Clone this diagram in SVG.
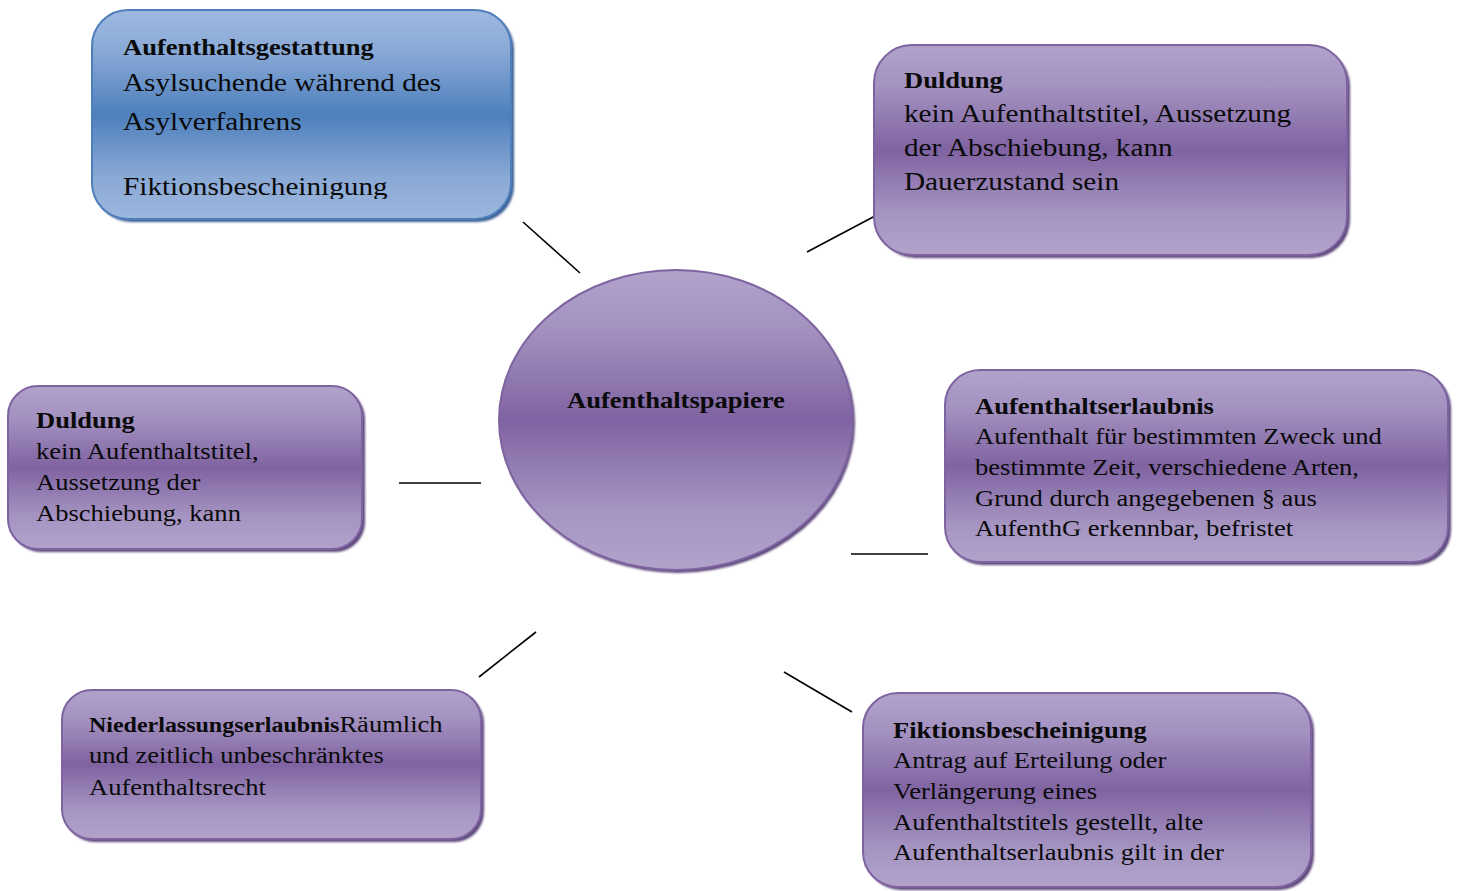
<svg xmlns="http://www.w3.org/2000/svg" width="1459" height="891" viewBox="0 0 1459 891">
<style>
text{font-family:"Liberation Serif","Times New Roman",serif;fill:#0a0a0a;}
.hd{font-weight:bold;}
.s23{font-size:22.7px;}
.s25{font-size:25px;}
.box{stroke-width:2;}
.pbox{fill:url(#gP);stroke:#7e63a0;}
.bbox{fill:url(#gB);stroke:#4f7fbb;}
.psh{fill:#5b467a;filter:url(#blur);}
.bsh{fill:#3a6094;filter:url(#blur);}
.con line{stroke:#000;stroke-width:1.6;}
</style>
<defs>
<linearGradient id="gP" x1="0" y1="0" x2="0" y2="1">
<stop offset="0" stop-color="#b1a2cb"/>
<stop offset="0.2" stop-color="#a391c0"/>
<stop offset="0.5" stop-color="#8063a2"/>
<stop offset="0.8" stop-color="#a594c2"/>
<stop offset="1" stop-color="#b1a2cb"/>
</linearGradient>
<linearGradient id="gB" x1="0" y1="0" x2="0" y2="1">
<stop offset="0" stop-color="#9fb9e0"/>
<stop offset="0.2" stop-color="#89a9d6"/>
<stop offset="0.5" stop-color="#4e80bd"/>
<stop offset="0.8" stop-color="#8aa9d5"/>
<stop offset="1" stop-color="#9db7de"/>
</linearGradient>
<filter id="blur" x="-5%" y="-5%" width="110%" height="110%"><feGaussianBlur stdDeviation="1.2"/></filter>
<clipPath id="clipTL"><rect x="92" y="10" width="422" height="189"/></clipPath>
</defs>

<g id="connectors" class="con">
<line x1="523" y1="222" x2="580" y2="273"/>
<line x1="807" y1="252" x2="875" y2="216"/>
<line x1="399" y1="483" x2="481" y2="483"/>
<line x1="851" y1="554" x2="928" y2="554"/>
<line x1="479" y1="677" x2="536" y2="632"/>
<line x1="784" y1="672" x2="852" y2="712"/>
</g>

<g id="node-center">
<ellipse class="psh" cx="678" cy="423" rx="177" ry="150"/>
<ellipse cx="676" cy="420" rx="177" ry="150" fill="url(#gP)" stroke="#7e63a0" stroke-width="2"/>
<text class="hd s23" transform="translate(567 408) scale(1.17 1)">Aufenthaltspapiere</text>
</g>

<g id="node-aufenthaltsgestattung">
<rect class="bsh" x="95" y="13" width="419" height="209" rx="36"/>
<rect class="box bbox" x="92" y="10" width="419" height="209" rx="36"/>
<g clip-path="url(#clipTL)">
<text transform="translate(123 0) scale(1.17 1)">
<tspan class="hd s23" x="0" y="55">Aufenthaltsgestattung</tspan>
<tspan class="s25" x="0" y="91">Asylsuchende während des</tspan>
<tspan class="s25" x="0" y="130">Asylverfahrens</tspan>
<tspan class="s25" x="0" y="195">Fiktionsbescheinigung</tspan>
</text>
</g>
</g>

<g id="node-duldung-top">
<rect class="psh" x="877" y="48" width="473" height="210" rx="38"/>
<rect class="box pbox" x="874" y="45" width="473" height="210" rx="38"/>
<text transform="translate(904 0) scale(1.17 1)">
<tspan class="hd s23" x="0" y="88">Duldung</tspan>
<tspan class="s25" x="0" y="122">kein Aufenthaltstitel, Aussetzung</tspan>
<tspan class="s25" x="0" y="156">der Abschiebung, kann</tspan>
<tspan class="s25" x="0" y="190">Dauerzustand sein</tspan>
</text>
</g>

<g id="node-duldung-left">
<rect class="psh" x="11" y="389" width="354" height="163" rx="30"/>
<rect class="box pbox" x="8" y="386" width="354" height="163" rx="30"/>
<text class="s23" transform="translate(36 0) scale(1.17 1)">
<tspan class="hd" x="0" y="428">Duldung</tspan>
<tspan x="0" y="459">kein Aufenthaltstitel,</tspan>
<tspan x="0" y="490">Aussetzung der</tspan>
<tspan x="0" y="521">Abschiebung, kann</tspan>
</text>
</g>

<g id="node-aufenthaltserlaubnis">
<rect class="psh" x="948" y="373" width="503" height="192" rx="35"/>
<rect class="box pbox" x="945" y="370" width="503" height="192" rx="35"/>
<text class="s23" transform="translate(975 0) scale(1.17 1)">
<tspan class="hd" x="0" y="414">Aufenthaltserlaubnis</tspan>
<tspan x="0" y="444">Aufenthalt für bestimmten Zweck und</tspan>
<tspan x="0" y="475">bestimmte Zeit, verschiedene Arten,</tspan>
<tspan x="0" y="506">Grund durch angegebenen § aus</tspan>
<tspan x="0" y="536">AufenthG erkennbar, befristet</tspan>
</text>
</g>

<g id="node-niederlassungserlaubnis">
<rect class="psh" x="65" y="693" width="419" height="149" rx="30"/>
<rect class="box pbox" x="62" y="690" width="419" height="149" rx="30"/>
<text class="s23" transform="translate(89 0) scale(1.17 1)">
<tspan x="0" y="732"><tspan class="hd" style="font-size:20.5px">Niederlassungserlaubnis</tspan>Räumlich</tspan>
<tspan x="0" y="763">und zeitlich unbeschränktes</tspan>
<tspan x="0" y="795">Aufenthaltsrecht</tspan>
</text>
</g>

<g id="node-fiktionsbescheinigung">
<rect class="psh" x="866" y="696" width="448" height="194" rx="35"/>
<rect class="box pbox" x="863" y="693" width="448" height="194" rx="35"/>
<text class="s23" transform="translate(893 0) scale(1.17 1)">
<tspan class="hd" x="0" y="738">Fiktionsbescheinigung</tspan>
<tspan x="0" y="768">Antrag auf Erteilung oder</tspan>
<tspan x="0" y="799">Verlängerung eines</tspan>
<tspan x="0" y="830">Aufenthaltstitels gestellt, alte</tspan>
<tspan x="0" y="860">Aufenthaltserlaubnis gilt in der</tspan>
</text>
</g>
</svg>
